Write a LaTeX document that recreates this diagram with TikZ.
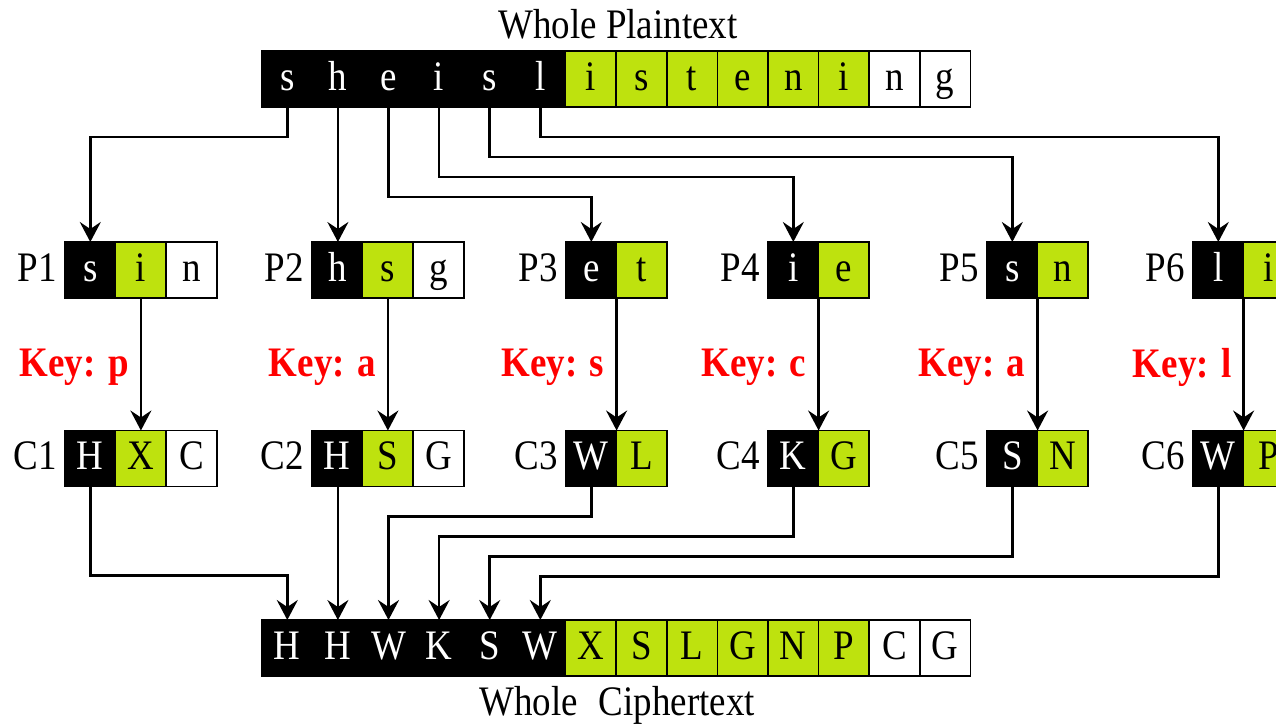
\documentclass[tikz,border=0pt]{standalone}
\usepackage{fontspec}
\setmainfont{Liberation Serif}[FakeStretch=0.88]
\usetikzlibrary{arrows.meta,fit,positioning}
\definecolor{limegr}{RGB}{190,226,14}
\begin{document}
\begin{tikzpicture}[x=1pt,y=-1pt,
  cell/.style={draw=black,line width=1.6pt,minimum width=50.6pt,minimum height=56pt,inner sep=0pt,outer sep=0pt,text height=29pt,text depth=7pt,font=\fontsize{42}{44}\selectfont},
  bk/.style={cell,fill=black,text=white},
  gr/.style={cell,fill=limegr,text=black},
  wh/.style={cell,fill=white,text=black},
  conn/.style={line width=2.5pt,-{Stealth[length=20pt,width=21pt,inset=7pt]}},
  lbl/.style={font=\fontsize{42}{44}\selectfont,inner sep=0pt},
  keylbl/.style={font=\fontsize{42}{44}\selectfont\bfseries,text=red,inner sep=0pt},
  grp/.style={inner sep=0pt,outer sep=0pt}
]
\useasboundingbox (0,0) rectangle (1276,724);
\clip (0,0) rectangle (1276,724);

% whole plaintext
\foreach \ch/\st [count=\i] in {s/bk,h/bk,e/bk,i/bk,s/bk,l/bk,i/gr,s/gr,t/gr,e/gr,n/gr,i/gr,n/wh,g/wh}
  \node[\st] (t\i) at ({262+(\i-0.5)*50.6},79) {\ch};
\node[lbl] (tp) at (618,24) {Whole Plaintext};

% whole ciphertext
\foreach \ch/\st [count=\i] in {H/bk,H/bk,W/bk,K/bk,S/bk,W/bk,X/gr,S/gr,L/gr,G/gr,N/gr,P/gr,C/wh,G/wh}
  \node[\st] (b\i) at ({262+(\i-0.5)*50.6},648) {\ch};
\node[lbl] (tc) at (617,705) {Whole\hspace{0.5em}Ciphertext};

% P and C boxes with three cells
\foreach \n/\x/\a/\b/\c/\A/\B/\C in {1/65/s/i/n/H/X/C, 2/312/h/s/g/H/S/G}{
  \node[bk] (p\n-a) at ({\x+25.3},270) {\a};
  \node[gr] (p\n-b) at ({\x+75.9},270) {\b};
  \node[wh] (p\n-c) at ({\x+126.5},270) {\c};
  \node[grp,fit=(p\n-a)(p\n-c)] (P\n) {};
  \node[bk] (c\n-a) at ({\x+25.3},458.5) {\A};
  \node[gr] (c\n-b) at ({\x+75.9},458.5) {\B};
  \node[wh] (c\n-c) at ({\x+126.5},458.5) {\C};
  \node[grp,fit=(c\n-a)(c\n-c)] (C\n) {};
}
% P and C boxes with two cells
\foreach \n/\x/\a/\b/\A/\B in {3/566/e/t/W/L, 4/768/i/e/K/G, 5/987/s/n/S/N, 6/1193/l/i/W/P}{
  \node[bk] (p\n-a) at ({\x+25.3},270) {\a};
  \node[gr] (p\n-b) at ({\x+75.9},270) {\b};
  \node[grp,fit=(p\n-a)(p\n-b)] (P\n) {};
  \node[bk] (c\n-a) at ({\x+25.3},458.5) {\A};
  \node[gr] (c\n-b) at ({\x+75.9},458.5) {\B};
  \node[grp,fit=(c\n-a)(c\n-b)] (C\n) {};
}
% labels and key arrows
\foreach \n/\k in {1/p,2/a,3/s,4/c,5/a,6/l}{
  \node[lbl,anchor=base east] (lp\n) at ([xshift=-8pt]p\n-a.base west) {P\n};
  \node[lbl,anchor=base east] (lc\n) at ([xshift=-8pt]c\n-a.base west) {C\n};
  \draw[conn] (P\n.south) -- node[keylbl,left=11pt,yshift=-3pt] (k\n) {Key: \k} (C\n.north);
}

% plaintext to P boxes
\draw[conn] (t1.south) -- ++(0,30) -| (p1-a.north);
\draw[conn] (t2.south) -- (t2.south |- p2-a.north);
\draw[conn] (t3.south) -- ++(0,90) -| (p3-a.north);
\draw[conn] (t4.south) -- ++(0,70) -| (p4-a.north);
\draw[conn] (t5.south) -- ++(0,50) -| (p5-a.north);
\draw[conn] (t6.south) -- ++(0,30) -| (p6-a.north);

% C boxes to ciphertext
\draw[conn] (c1-a.south) -- ++(0,89) -| (b1.north);
\draw[conn] (c2-a.south) -- (c2-a.south -| b2.north) -- (b2.north);
\draw[conn] (c3-a.south) -- ++(0,30) -| (b3.north);
\draw[conn] (c4-a.south) -- ++(0,50) -| (b4.north);
\draw[conn] (c5-a.south) -- ++(0,70) -| (b5.north);
\draw[conn] (c6-a.south) -- ++(0,90) -| (b6.north);
\end{tikzpicture}
\end{document}
